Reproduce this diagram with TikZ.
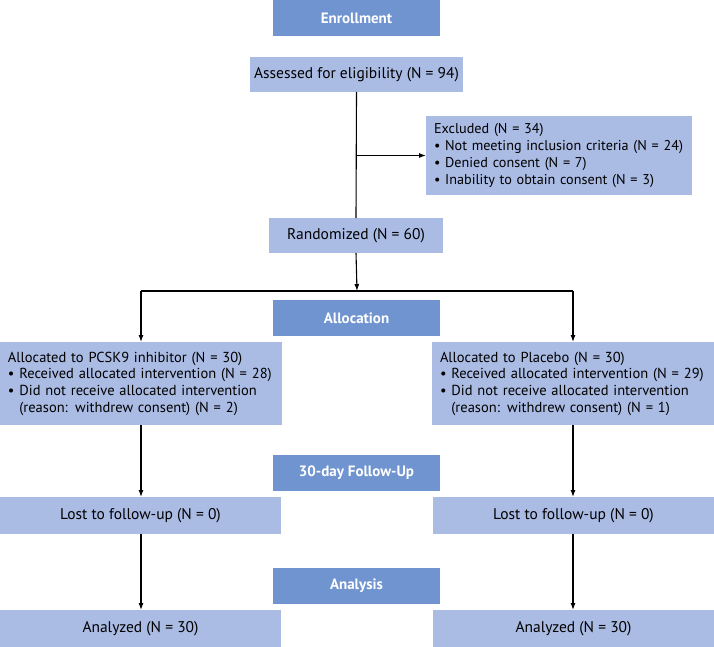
\documentclass[tikz,border=0pt]{standalone}
\usepackage{fontspec}
\setmainfont{PT Sans}
\usepackage{xcolor}
\usepackage{tikz}
\usetikzlibrary{arrows.meta, positioning}

\definecolor{stageblue}{HTML}{7094D0}
\definecolor{boxblue}{HTML}{AABBE4}

\begin{document}
\begin{tikzpicture}
	[
		x=1pt, y=-1pt,
		every node/.style={font=\fontsize{15.5}{17}\selectfont, inner sep=0pt, outer sep=0pt, anchor=north west},
		stage/.style={fill=stageblue, text=white, font=\fontsize{15}{17}\selectfont\bfseries, minimum width=167pt, minimum height=36pt},
		info/.style={fill=boxblue, minimum height=36pt},
		listbox/.style={fill=boxblue, align=left, inner xsep=8pt, font=\fontsize{14.5}{16.7}\selectfont},
		flow/.style={-{Latex[length=7pt, width=5pt]}, line width=1.1pt},
		link/.style={line width=1.1pt}
	]
	\useasboundingbox (0,0) rectangle (714,647);

	% stage headers
	\node[stage] (enroll) at (273,0) {Enrollment};
	\node[stage] (alloc) at (273,300) {Allocation};
	\node[stage] (fup) at (273,455) {30-day Follow-Up};
	\node[stage] (analysis) at (273,568) {Analysis};

	% enrollment
	\node[info, minimum width=213pt, minimum height=35pt] (assess) at (250,57) {Assessed for eligibility (N = 94)};
	\node[listbox, text width=258pt, inner xsep=4pt, minimum height=79pt, font=\fontsize{14.2}{16.7}\selectfont] (excluded) at (426,116)
		{\hspace*{4pt}Excluded (N = 34)\\
		 \hspace*{4pt}\textbullet{} Not meeting inclusion criteria (N = 24)\\
		 \hspace*{4pt}\textbullet{} Denied consent (N = 7)\\
		 \hspace*{4pt}\textbullet{} Inability to obtain consent (N = 3)};
	\node[info, minimum width=174pt, minimum height=35pt] (random) at (269,218) {Randomized (N = 60)};

	% allocation
	\node[listbox, text width=266pt, minimum height=83pt] (pcsk) at (0,342)
		{Allocated to PCSK9 inhibitor (N = 30)\\
		 \textbullet{} Received allocated intervention (N = 28)\\
		 \textbullet{} Did not receive allocated intervention\\
		 \phantom{\textbullet{} }(reason: withdrew consent) (N = 2)};
	\node[listbox, text width=266pt, minimum height=83pt] (placebo) at (432,342)
		{Allocated to Placebo (N = 30)\\
		 \textbullet{} Received allocated intervention (N = 29)\\
		 \textbullet{} Did not receive allocated intervention\\
		 \phantom{\textbullet{} }(reason: withdrew consent) (N = 1)};

	% follow-up and analysis
	\node[info, minimum width=281pt, minimum height=37pt] (lostl) at (0,497) {Lost to follow-up (N = 0)};
	\node[info, minimum width=281pt, minimum height=37pt] (lostr) at (433,497) {Lost to follow-up (N = 0)};
	\node[info, minimum width=281pt, minimum height=37pt] (anl) at (0,610) {Analyzed (N = 30)};
	\node[info, minimum width=281pt, minimum height=37pt] (anr) at (433,610) {Analyzed (N = 30)};

	% connectors
	\coordinate (branch) at (assess.south |- excluded.west);
	\coordinate (split) at (357,291);
	\coordinate (splitl) at (141,291);
	\coordinate (splitr) at (573,291);

	\draw[link] (assess.south) -- (random.north);
	\draw[flow] (branch) -- (excluded.west);
	\draw[flow] (random.south) -- (split);
	\draw[link] (splitl) -- (splitr);
	\draw[flow] (splitl) -- (splitl |- pcsk.north);
	\draw[flow] (splitr) -- (splitr |- placebo.north);
	\draw[flow] (splitl |- pcsk.south) -- (splitl |- lostl.north);
	\draw[flow] (splitr |- placebo.south) -- (splitr |- lostr.north);
	\draw[flow] (splitl |- lostl.south) -- (splitl |- anl.north);
	\draw[flow] (splitr |- lostr.south) -- (splitr |- anr.north);
\end{tikzpicture}
\end{document}
